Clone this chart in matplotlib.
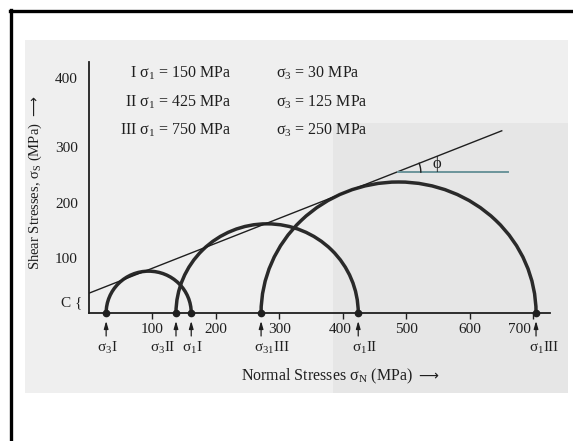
import numpy as np
import matplotlib
matplotlib.use("Agg")
import matplotlib.pyplot as plt
import matplotlib.transforms as mtransforms
from matplotlib.patches import Arc, Rectangle

# ---- data ----
circle_names = ["I", "II", "III"]
sigma1_stated = [150, 425, 750]          # MPa (legend text)
sigma3_stated = [30, 125, 250]           # MPa (legend text)
sigma3_drawn = [27, 137, 271]            # where the circles start on the axis
sigma1_drawn = [161, 424, 704]           # where the circles end on the axis
circle_peak = [76, 162, 238]             # height of each circle (shear scale)
cohesion = 36                            # envelope intercept C
envelope_end = (650, 331)                # upper end of the failure envelope
phi_ref_y = 256                          # horizontal reference line for phi
phi_ref_x = (487, 660)
x_ticks = [100, 200, 300, 400, 500, 600, 700]
y_tick_labels = ["100", "200", "300", "400"]
y_tick_pos = [100, 200, 302, 427]
point_labels = [r"σ$_3$I", r"σ$_3$II", r"σ$_1$I", r"σ$_{31}$III", r"σ$_1$II", r"σ$_1$III"]

plt.rcParams["font.family"] = ["Liberation Serif", "DejaVu Serif"]
plt.rcParams["mathtext.fontset"] = "custom"
plt.rcParams["mathtext.rm"] = "Liberation Serif"
plt.rcParams["mathtext.it"] = "Liberation Serif"
plt.rcParams["mathtext.default"] = "rm"

W, H = 573, 441
fig = plt.figure(figsize=(W / 100, H / 100), dpi=100)
fig.patch.set_facecolor("white")

def fx(px):
    return px / W

def fy(py):
    return 1 - py / H

ink = "#1f1f1f"

# background axes for the scanned page look (pixel coordinates)
bg = fig.add_axes([0, 0, 1, 1], zorder=-10)
bg.set_xlim(0, W)
bg.set_ylim(H, 0)
bg.axis("off")
bg.add_patch(Rectangle((25, 40), 543, 353, facecolor="#efefef", edgecolor="none"))
bg.add_patch(Rectangle((333, 123), 235, 270, facecolor="#e6e6e6", edgecolor="none"))
bg.plot([11, 11], [10, H], color="black", lw=2.4)
bg.plot([10, W], [11, 11], color="black", lw=2.4)

ax = fig.add_axes([fx(89), fy(313), fx(550) - fx(89), fy(62) - fy(313)], zorder=1)
ax.set_xlim(0, 726)
ax.set_ylim(0, 456)
ax.patch.set_alpha(0)
for s in ["top", "right"]:
    ax.spines[s].set_visible(False)
for s in ["left", "bottom"]:
    ax.spines[s].set_linewidth(1.3)
    ax.spines[s].set_color(ink)

# Mohr circles
for s3, s1, h in zip(sigma3_drawn, sigma1_drawn, circle_peak):
    c = (s3 + s1) / 2
    ax.add_patch(Arc((c, 0), s1 - s3, 2 * h, theta1=0, theta2=180,
                     color="#2a2a2a", lw=2.5, zorder=3, clip_on=False))
ends = sorted(sigma3_drawn + sigma1_drawn)
ax.plot(ends, [0] * len(ends), "o", color=ink, ms=4.5, zorder=4, clip_on=False)

# failure envelope
ax.plot([0, envelope_end[0]], [cohesion, envelope_end[1]], color=ink, lw=1.0, zorder=3)
# phi reference line and angle mark
ax.plot(list(phi_ref_x), [phi_ref_y, phi_ref_y], color="#6b949a", lw=1.4, zorder=3)
fig.canvas.draw()
slope = (envelope_end[1] - cohesion) / envelope_end[0]
x0 = (phi_ref_y - cohesion) / slope
p0 = ax.transData.transform((x0, phi_ref_y))
p1 = ax.transData.transform((envelope_end[0], envelope_end[1]))
ang = np.arctan2(p1[1] - p0[1], p1[0] - p0[0])
t = np.linspace(0, ang, 20)
pts = np.column_stack([p0[0] + 24 * np.cos(t), p0[1] + 24 * np.sin(t)])
arc_pts = ax.transData.inverted().transform(pts)
ax.plot(arc_pts[:, 0], arc_pts[:, 1], color=ink, lw=1.0, zorder=3)
ax.annotate("ϕ", (x0, phi_ref_y), xytext=(40, 8), textcoords="offset pixels",
            fontsize=12, ha="center", va="center", color=ink)

# ticks
ax.set_xticks(x_ticks)
ax.set_xticklabels([str(v) for v in x_ticks], fontsize=11, color=ink)
ax.tick_params(axis="x", length=4.5, width=1.0, pad=3, color=ink)
ax.set_yticks(y_tick_pos)
ax.set_yticklabels(y_tick_labels, fontsize=11, color=ink)
ax.tick_params(axis="y", length=0, pad=8)
# labels 400 and 700 sit left of their arrows in the reference
for lbl in ax.get_xticklabels():
    if lbl.get_text() in ("400", "700"):
        shift = -3 if lbl.get_text() == "400" else -14
        lbl.set_transform(lbl.get_transform() +
                          mtransforms.ScaledTranslation(shift / 100, 0, fig.dpi_scale_trans))

# C brace
ax.annotate("C {", (0, cohesion / 2), xytext=(-7, 0), textcoords="offset pixels",
            ha="right", va="center", fontsize=11, color=ink)

# arrows and labels below the axis
arrow_tip = mtransforms.offset_copy(ax.transData, fig=fig, x=0, y=-8, units="dots")
label_dx = [1, -13, 1, 11, 6, 8]
for xv, lab, dx in zip(ends, point_labels, label_dx):
    ax.annotate("", xy=(xv, 0), xycoords=arrow_tip,
                xytext=(0, -15), textcoords="offset pixels",
                arrowprops=dict(arrowstyle="-|>,head_length=0.45,head_width=0.13",
                                color=ink, lw=0.9, shrinkA=0, shrinkB=0))
    ax.annotate(lab, (xv, 0), xytext=(dx, -35), textcoords="offset pixels",
                ha="center", va="center", fontsize=11, color=ink)

# legend text block
rows_y = [73, 102, 130]
for name, s1, s3, py in zip(circle_names, sigma1_stated, sigma3_stated, rows_y):
    fig.text(fx(231), fy(py), f"{name} σ$_1$ = {s1} MPa", ha="right", va="center",
             fontsize=11.5, color=ink)
    fig.text(fx(276), fy(py), f"σ$_3$ = {s3} MPa", ha="left", va="center",
             fontsize=11.5, color=ink)

# axis titles
fig.text(fx(413), fy(376), "Normal Stresses σ$_N$ (MPa)", ha="right", va="center",
         fontsize=11.5, color=ink)
fig.text(fx(418), fy(376), "⟶", ha="left", va="center", fontsize=10,
         family="DejaVu Sans", color=ink)
fig.text(fx(35), fy(270), "Shear Stresses, σ$_S$ (MPa)", ha="left", va="center",
         rotation=90, rotation_mode="anchor", fontsize=10.5, color=ink)
fig.text(fx(35), fy(116), "⟶", ha="left", va="center", rotation=90,
         rotation_mode="anchor", fontsize=10, family="DejaVu Sans", color=ink)

fig.savefig("out.png", dpi=100)
